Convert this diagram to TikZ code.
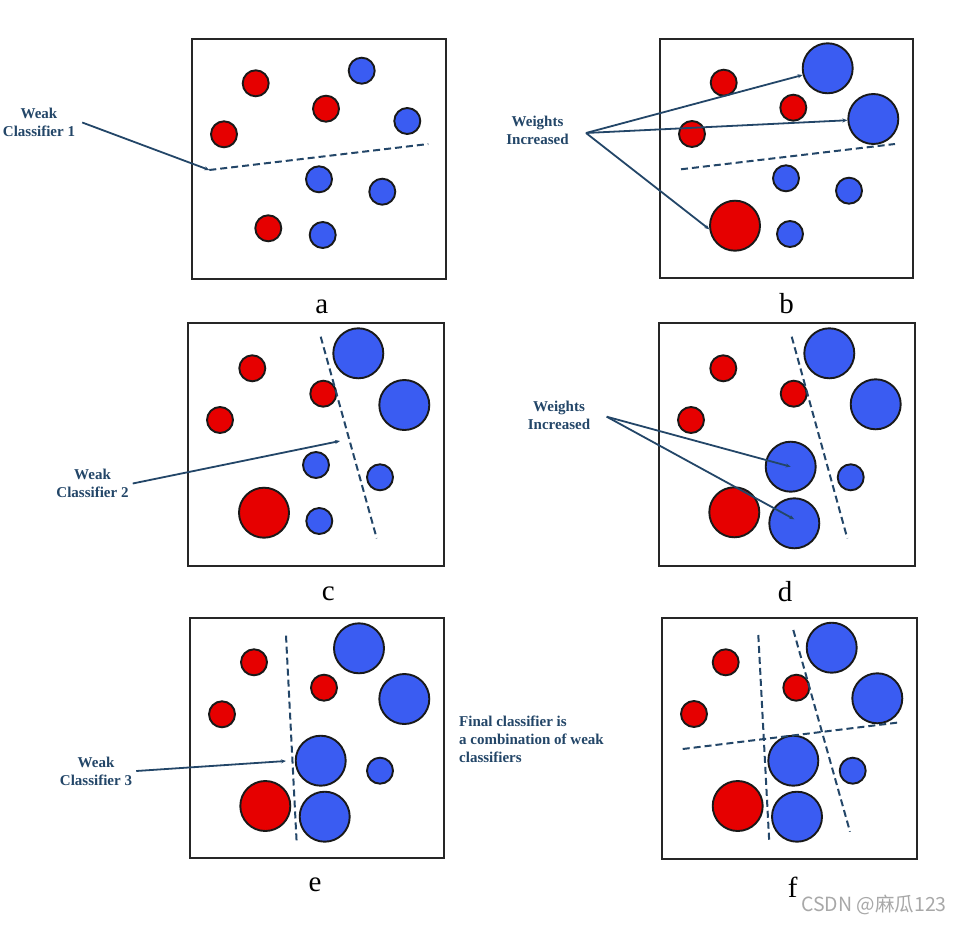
\documentclass[tikz,border=0pt]{standalone}
\usepackage{fontspec}
\setmainfont{Liberation Serif}
\newfontfamily\cjk{Noto Sans CJK SC}
\usetikzlibrary{arrows.meta}
\definecolor{ptred}{HTML}{E60000}
\definecolor{ptblue}{HTML}{3A5CF2}
\definecolor{navy}{HTML}{234668}
\definecolor{mark}{HTML}{A8A8A8}

\begin{document}
\begin{tikzpicture}[
  x=1pt, y=-1pt,
  >={Stealth[length=5pt, width=4pt]},
  panel/.style={draw=black!85, line width=2pt},
  reddot/.style={circle, draw=black!90, line width=1.9pt, fill=ptred, inner sep=0pt, minimum size=26pt},
  bluedot/.style={reddot, fill=ptblue},
  big/.style={minimum size=50pt},
  split/.style={navy, line width=2pt, dash pattern=on 7pt off 4pt},
  pointer/.style={navy, line width=1.8pt, ->},
  note/.style={text=navy, font=\fontsize{15}{18}\selectfont\bfseries, align=center, inner sep=1pt},
  tag/.style={font=\fontsize{29}{30}\selectfont, inner sep=0pt},
]

% Canvas
\useasboundingbox (0,0) rectangle (960,925);
\fill[white] (0,0) rectangle (960,925);

% Panel frames
\draw[panel] (192,39) rectangle (446,279);
\draw[panel] (660,39) rectangle (913,278);
\draw[panel] (188,323) rectangle (444,566);
\draw[panel] (659,323) rectangle (915,566);
\draw[panel] (190,618) rectangle (444,858);
\draw[panel] (662,618) rectangle (917,859);

% Panel a: equal weights
\node[reddot]  (a1) at (255.7,83.3) {};
\node[bluedot] (a2) at (361.7,70.7) {};
\node[reddot]  (a3) at (326,108.7) {};
\node[bluedot] (a4) at (407.3,121) {};
\node[reddot]  (a5) at (224,134.3) {};
\node[bluedot] (a6) at (319,179.3) {};
\node[bluedot] (a7) at (382.3,191.7) {};
\node[reddot]  (a8) at (268.3,228.3) {};
\node[bluedot] (a9) at (322.7,235) {};

% Panel b: misclassified points grow
\node[reddot]      (b1) at (723.7,82.7) {};
\node[bluedot,big] (b2) at (827.7,68.3) {};
\node[reddot]      (b3) at (793.3,107.7) {};
\node[bluedot,big] (b4) at (873.3,119) {};
\node[reddot]      (b5) at (692,134) {};
\node[bluedot]     (b6) at (786,178.3) {};
\node[bluedot]     (b7) at (849,190.7) {};
\node[reddot,big]  (b8) at (735,225.7) {};
\node[bluedot]     (b9) at (790,234) {};

% Panel c
\node[reddot]      (c1) at (252.3,368.3) {};
\node[bluedot,big] (c2) at (358.3,353.3) {};
\node[reddot]      (c3) at (323.3,393.7) {};
\node[bluedot,big] (c4) at (404.3,405) {};
\node[reddot]      (c5) at (220,420) {};
\node[bluedot]     (c6) at (316,465) {};
\node[bluedot]     (c7) at (380,477.3) {};
\node[reddot,big]  (c8) at (264,512.7) {};
\node[bluedot]     (c9) at (319.3,521) {};

% Panel d
\node[reddot]      (d1) at (723.3,368.3) {};
\node[bluedot,big] (d2) at (829.3,353.3) {};
\node[reddot]      (d3) at (793.7,393.7) {};
\node[bluedot,big] (d4) at (875.7,404.3) {};
\node[reddot]      (d5) at (691,420) {};
\node[bluedot,big] (d6) at (790.7,466.7) {};
\node[bluedot]     (d7) at (850.7,477.3) {};
\node[reddot,big]  (d8) at (734.3,512.3) {};
\node[bluedot,big] (d9) at (794.3,523.3) {};

% Panel e
\node[reddot]      (e1) at (254,662.3) {};
\node[bluedot,big] (e2) at (359,648.3) {};
\node[reddot]      (e3) at (324,687.7) {};
\node[bluedot,big] (e4) at (404.3,699) {};
\node[reddot]      (e5) at (222,714.3) {};
\node[bluedot,big] (e6) at (320.7,760.7) {};
\node[bluedot]     (e7) at (380,770.7) {};
\node[reddot,big]  (e8) at (265.3,806) {};
\node[bluedot,big] (e9) at (324.7,816.7) {};

% Panel f
\node[reddot]      (f1) at (725.7,662.3) {};
\node[bluedot,big] (f2) at (831.7,647.7) {};
\node[reddot]      (f3) at (796.3,687.7) {};
\node[bluedot,big] (f4) at (877.3,698.3) {};
\node[reddot]      (f5) at (694,714) {};
\node[bluedot,big] (f6) at (793.3,760.7) {};
\node[bluedot]     (f7) at (852.7,770.7) {};
\node[reddot,big]  (f8) at (737.7,806) {};
\node[bluedot,big] (f9) at (797,816.7) {};

% Decision boundaries
\coordinate (s1) at (209.3,170);
\draw[split] (s1) -- (428.3,144);
\draw[split] (681,169.3) -- (895,144);
\draw[split] (320.7,336.7) -- (376.7,538.3);
\draw[split] (791.7,336.7) -- (847.3,538.3);
\draw[split] (286,635.7) -- (296.7,843.3);
\draw[split] (758.3,635) -- (769.3,843.3);
\draw[split] (793.3,630) -- (850,831.7);
\draw[split] (682.7,749) -- (900,722.3);

% Callouts
\node[note] (wk1) at (39,122.5) {Weak\\Classifier 1};
\draw[pointer] ([xshift=6pt]wk1.east) -- (s1);

\node[note] (wi1) at (537.5,130) {Weights\\Increased};
\coordinate (p1) at (586,133);
\draw[pointer] (p1) -- (b2);
\draw[pointer] (p1) -- (b4);
\draw[pointer] (p1) -- (b8.188);

\node[note] (wk2) at (92.5,483.5) {Weak\\Classifier 2};
\coordinate (s2) at (340,441);
\draw[pointer] ([xshift=3pt]wk2.east) -- (s2);

\node[note] (wi2) at (559,415.5) {Weights\\Increased};
\coordinate (p2) at (606.7,416.7);
\draw[pointer] (p2) -- (d6.center);
\draw[pointer] (p2) -- ([yshift=4pt]d9.center);

\node[note] (wk3) at (96,771) {Weak\\Classifier 3};
\coordinate (s3) at (286,761);
\draw[pointer] ([xshift=3pt]wk3.east) -- (s3);

\node[note, align=left, anchor=west] (fin) at (458,739.3)
  {Final classifier is\\a combination of weak\\classifiers};

% Panel letters
\node[tag] (ta) at (321.7,306.7) {a};
\node[tag] (tb) at (786.7,303.3) {b};
\node[tag] (tc) at (328.3,594.3) {c};
\node[tag] (td) at (785,591.7) {d};
\node[tag] (te) at (315,885) {e};
\node[tag] (tf) at (792.7,887) {f};

% Watermark
\node[text=mark, font=\cjk\fontsize{19.5}{21}\selectfont] (wm) at (874,905) {CSDN @麻瓜123};

\end{tikzpicture}
\end{document}
